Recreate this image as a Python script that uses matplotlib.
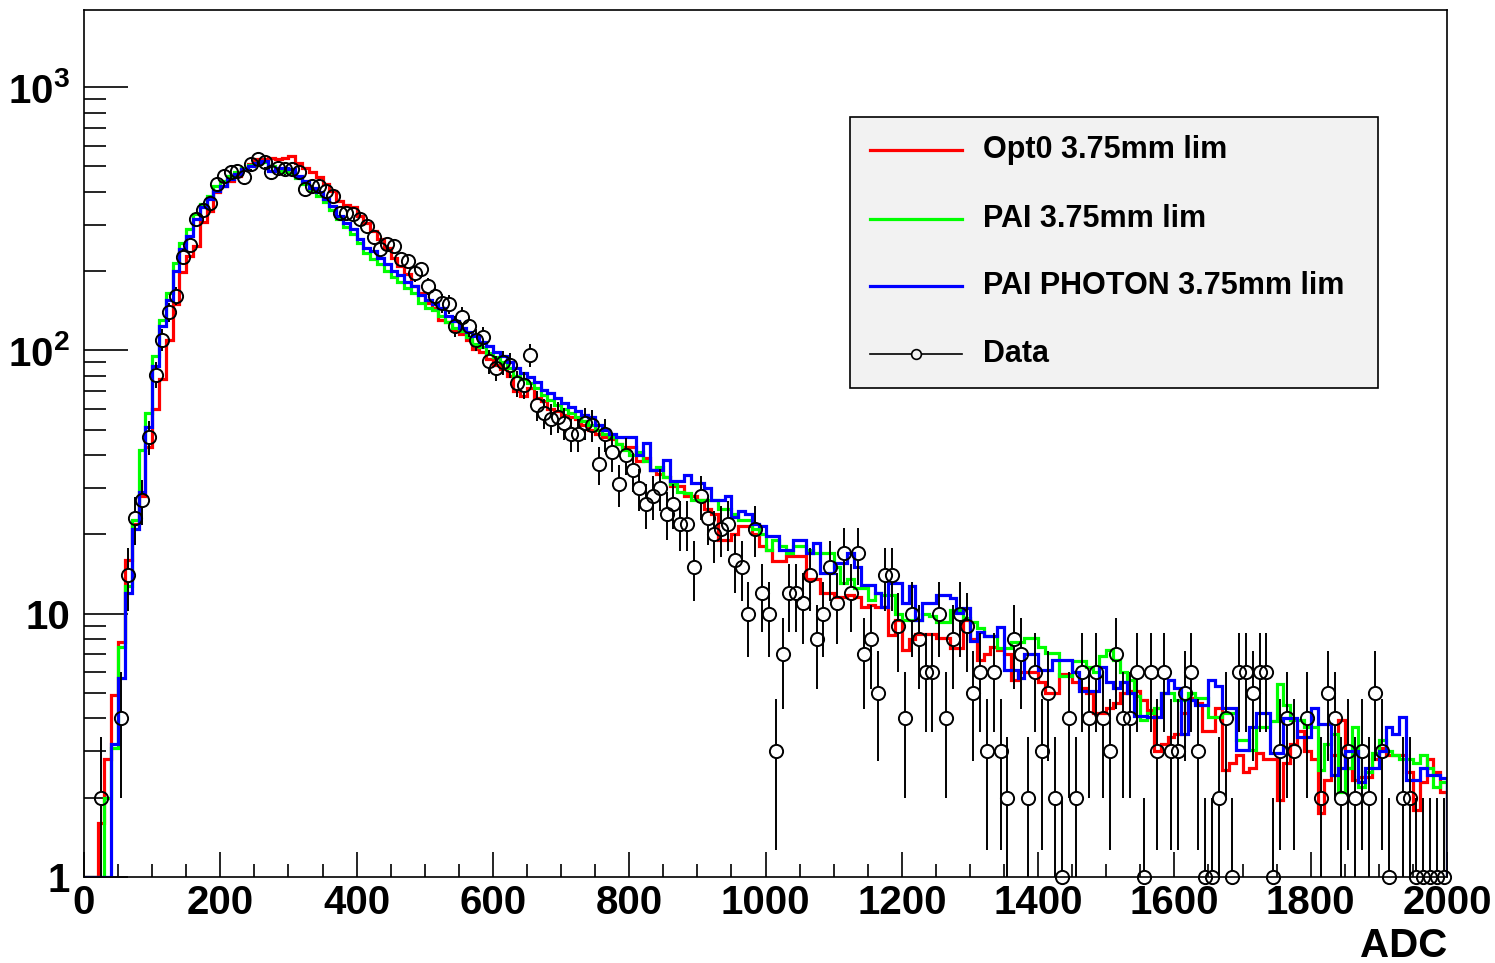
import numpy as np
import matplotlib.pyplot as plt
from matplotlib.lines import Line2D
from matplotlib.patches import Rectangle
from matplotlib.ticker import FixedLocator, LogLocator, NullFormatter

plt.rcParams["font.family"] = ["Liberation Sans", "DejaVu Sans"]
plt.rcParams["font.weight"] = "bold"
plt.rcParams["mathtext.fontset"] = "custom"
plt.rcParams["mathtext.rm"] = "Liberation Sans:bold"
plt.rcParams["mathtext.bf"] = "Liberation Sans:bold"

# ============================================================
# DATA (200 bins of 10 ADC, 0..2000)
# ============================================================
BIN_WIDTH = 10
N_BINS = 200

# data: raw counts per bin
data_counts = [
    0, 0, 2, 0, 0, 4, 14, 23, 27, 47,
    81, 110, 140, 161, 227, 252, 315, 341, 364, 428,
    460, 476, 480, 454, 510, 532, 520, 474, 495, 490,
    487, 474, 410, 421, 421, 403, 387, 334, 334, 330,
    315, 297, 270, 242, 253, 249, 222, 218, 196, 203,
    175, 161, 151, 150, 124, 134, 124, 110, 112, 91,
    86, 90, 88, 75, 74, 96, 62, 58, 55, 56,
    53, 48, 48, 53, 52, 37, 48, 41, 31, 40,
    35, 30, 26, 28, 30, 24, 26, 22, 22, 15,
    28, 23, 20, 21, 22, 16, 15, 10, 21, 12,
    10, 3, 7, 12, 12, 11, 14, 8, 10, 15,
    11, 17, 12, 17, 7, 8, 5, 14, 14, 9,
    4, 10, 8, 6, 6, 10, 4, 8, 10, 9,
    5, 6, 3, 6, 3, 2, 8, 7, 2, 6,
    3, 5, 2, 1, 4, 2, 6, 4, 6, 4,
    3, 7, 4, 4, 6, 1, 6, 3, 6, 3,
    3, 5, 6, 3, 1, 1, 2, 4, 1, 6,
    6, 5, 6, 6, 1, 3, 4, 3, 0, 4,
    0, 2, 5, 4, 2, 3, 2, 3, 2, 5,
    3, 1, 0, 2, 2, 1, 1, 1, 1, 1,
]

# Opt0 3.75mm lim (red)
opt0_vals = [
    0, 0, 1.6, 2.8, 4.9, 7.8, 16, 22, 28, 43,
    60, 78, 110, 150, 198, 228, 249, 307, 339, 398,
    421, 440, 460, 487, 510, 532, 532, 540, 532, 540,
    548, 517, 495, 474, 454, 428, 403, 368, 357, 349,
    324, 306, 284, 264, 245, 225, 210, 195, 175, 165,
    152, 145, 130, 128, 120, 115, 110, 101, 99, 93,
    88, 85, 80, 70, 67, 72, 66, 64, 60, 59,
    57, 56, 55, 52, 50, 48, 47, 46, 44, 43,
    43, 38, 39, 35, 34, 33, 30.5, 30.5, 28, 28,
    27, 25, 24, 19.1, 19.1, 20, 21.5, 21.5, 20, 18,
    17.5, 15.8, 15.8, 16.5, 16.5, 16.5, 13.5, 13.5, 12, 12,
    11.6, 11.6, 11.8, 11.6, 10.6, 10.8, 10.6, 10.6, 8.3, 9.5,
    7.3, 8, 8.4, 8.4, 8.4, 8.1, 8.1, 7.4, 7.4, 9.5,
    8, 6.7, 7.0, 7.5, 7.3, 7.0, 5.6, 6, 6, 6,
    5.5, 5.0, 5.0, 5.9, 5.9, 5.5, 5.2, 5, 4.2, 4.2,
    4.4, 4.6, 5.0, 5.1, 5.1, 4.7, 4.3, 3.0, 3.2, 3.4,
    3.5, 4.2, 4.8, 4.6, 3.6, 3.6, 4.4, 2.55, 2.7, 2.9,
    2.5, 2.6, 2.95, 2.8, 2.8, 1.96, 2.7, 3.2, 3.6, 3.0,
    2.8, 1.75, 2.34, 2.9, 3.95, 2.6, 2.34, 2.4, 2.4, 2.8,
    3.1, 2.9, 2.9, 2.9, 2.5, 1.8, 2.3, 2.8, 2.5, 2.1,
]

# PAI 3.75mm lim (green)
pai_vals = [
    0, 0, 0, 2.0, 3.1, 7.5, 12.7, 22.7, 42, 58,
    95, 130, 165, 215, 255, 290, 330, 360, 385, 420,
    440, 460, 478, 495, 505, 515, 518, 500, 485, 478,
    470, 450, 430, 405, 385, 365, 340, 315, 295, 278,
    255, 235, 222, 212, 200, 190, 182, 172, 165, 152,
    145, 142, 135, 128, 122, 118, 112, 106, 103, 98,
    94, 90, 86, 80, 78, 75, 72, 68, 65, 62,
    60, 58, 56, 54, 52, 50, 48, 47, 44, 42,
    40, 41, 38, 35, 36, 33, 31, 29, 28.8, 27,
    27, 27, 27, 25, 25, 24, 22.7, 22.7, 21, 20,
    17.5, 19, 18, 17, 18, 18, 17.5, 17, 17, 17,
    15, 13.1, 13.5, 12.5, 12.5, 11.3, 12, 11.8, 11.8, 10,
    9.5, 9.5, 9.5, 10, 9.8, 9.3, 9.3, 10.3, 10.3, 9.6,
    9.3, 8.8, 8.2, 8.2, 7.4, 7.4, 7.8, 7.8, 8.1, 8.1,
    7.5, 7.1, 7.1, 5.8, 5.8, 6.6, 6.6, 6.3, 6.0, 6.9,
    7.3, 6.7, 6.0, 5.6, 4.85, 3.95, 4.2, 4.4, 5.0, 5.0,
    4.7, 4.7, 5.0, 4.8, 4.8, 4.06, 4.06, 4.2, 4.2, 3.3,
    3.3, 3.04, 3.7, 3.7, 3.9, 5.4, 4.5, 3.95, 3.95, 3.7,
    3.7, 2.55, 3.2, 3.5, 2.1, 2.6, 3.7, 2.2, 2.5, 2.95,
    3.3, 3.0, 2.9, 2.8, 2.8, 2.7, 2.9, 2.6, 2.2, 2.3,
]

# PAI PHOTON 3.75mm lim (blue)
pai_photon_vals = [
    0, 0, 0, 0, 3.2, 5.7, 12, 21, 29, 51,
    87, 124, 156, 200, 242, 272, 315, 349, 375, 403,
    421, 447, 467, 487, 502, 517, 525, 481, 495, 495,
    487, 460, 440, 415, 398, 375, 354, 324, 306, 288,
    264, 245, 238, 225, 212, 200, 194, 182, 176, 162,
    156, 150, 145, 135, 129, 122, 117, 113, 108, 104,
    99, 95, 90, 86, 82, 79, 76, 71, 69, 66,
    63, 61, 59, 57, 56, 52, 50, 48, 47, 47,
    47, 40, 44.6, 35, 35, 38.5, 32, 32, 33.6, 31.5,
    31.5, 30, 27, 27, 28, 23.2, 24.5, 24, 22, 21.5,
    19.7, 19.7, 17.5, 17.5, 19.1, 19.1, 17, 18.6, 14.3, 14.3,
    15.6, 15.6, 17, 15, 12.9, 12.9, 12, 10.6, 13.1, 13.1,
    11, 12.7, 9.5, 11, 11, 11.8, 11.8, 11.5, 10.1, 10.5,
    7.9, 8.5, 8.2, 8.2, 8.9, 6.1, 6.1, 5.7, 7, 7,
    6.1, 6.1, 6.7, 6.7, 6.7, 6.0, 5.1, 5.1, 5.1, 6.3,
    5.5, 5.2, 5.5, 5.0, 4.1, 4.1, 4.06, 4.06, 5.0, 5.6,
    5.2, 3.5, 4.7, 4.5, 4.5, 5.6, 5.3, 4.4, 4.4, 3.04,
    3.04, 3.7, 4.2, 4.2, 2.95, 2.95, 4.0, 4.0, 3.4, 3.4,
    4.4, 3.8, 3.8, 2.44, 2.6, 3.0, 3.0, 2.3, 2.6, 2.6,
    3.0, 3.7, 3.5, 4.06, 2.34, 2.34, 2.6, 2.44, 2.44, 2.37,
]

series_labels = ["Opt0 3.75mm lim", "PAI 3.75mm lim", "PAI PHOTON 3.75mm lim"]
series_colors = ["#ff0000", "#00ff00", "#0000ff"]

x_ticks = [0, 200, 400, 600, 800, 1000, 1200, 1400, 1600, 1800, 2000]
y_ticks = [1, 10, 100, 1000]
y_tick_labels = ["1", "10", r"$10^{2}$", r"$10^{3}$"]

# ============================================================
# FIGURE
# ============================================================
W, H = 1495, 963
fig = plt.figure(figsize=(W / 100, H / 100), dpi=100)
ax_left, ax_right, ax_top, ax_bottom = 84, 1447, 10, 877
ax = fig.add_axes([ax_left / W, 1 - ax_bottom / H,
                   (ax_right - ax_left) / W, (ax_bottom - ax_top) / H])

YMIN, YMAX = 1, 1963
ax.set_yscale("log")
ax.set_xlim(0, N_BINS * BIN_WIDTH)
ax.set_ylim(YMIN, YMAX)

edges = np.arange(N_BINS + 1) * BIN_WIDTH
centers = edges[:-1] + BIN_WIDTH / 2

for vals, col in zip([opt0_vals, pai_vals, pai_photon_vals], series_colors):
    v = np.clip(np.asarray(vals, dtype=float), YMIN, None)
    ax.stairs(v, edges, color=col, lw=2.3, zorder=2)

# data points with sqrt(N) errors, bars stop at the marker edge (ROOT style)
counts = np.asarray(data_counts, dtype=float)
mask = counts > 0
xc, yc = centers[mask], counts[mask]
err = np.sqrt(yc)
lo = np.clip(yc - err, 0.3, None)
hi = yc + err

ms = 9.5
r_px = ms / 2 * 100 / 72
px_per_decade = (ax_bottom - ax_top) / np.log10(YMAX / YMIN)
gap = 10 ** (r_px / px_per_decade)
ax.vlines(xc, lo, yc / gap, color="black", lw=1.4, zorder=3)
ax.vlines(xc, yc * gap, hi, color="black", lw=1.4, zorder=3)
ax.plot(xc, yc, "o", ms=ms, mfc="none", mec="black", mew=1.4,
        zorder=4, clip_on=False)

# ============================================================
# AXES STYLE
# ============================================================
for s in ax.spines.values():
    s.set_linewidth(1.2)

ax.xaxis.set_major_locator(FixedLocator(x_ticks))
ax.xaxis.set_minor_locator(FixedLocator(np.arange(0, 2001, 50)))
ax.set_xticklabels([str(t) for t in x_ticks])
ax.yaxis.set_major_locator(FixedLocator(y_ticks))
ax.yaxis.set_minor_locator(LogLocator(base=10, subs=range(2, 10)))
ax.yaxis.set_minor_formatter(NullFormatter())
ax.set_yticklabels(y_tick_labels)

ax.tick_params(axis="x", which="major", direction="in", length=18, width=1.2,
               labelsize=29, pad=5)
ax.tick_params(axis="x", which="minor", direction="in", length=9.5, width=1.2)
ax.tick_params(axis="y", which="major", direction="in", length=32, width=1.2,
               labelsize=29, pad=10)
ax.tick_params(axis="y", which="minor", direction="in", length=16, width=1.2)
ax.tick_params(top=False, right=False, which="both")

fig.text(ax_right / W, 1 - 946 / H, "ADC", ha="right", va="center",
         fontsize=29, fontweight="bold")

# ============================================================
# LEGEND (drawn by hand to match the ROOT TLegend box)
# ============================================================
def px_to_ax(x, y):
    return ((x - ax_left) / (ax_right - ax_left),
            (ax_bottom - y) / (ax_bottom - ax_top))

bx0, by0 = px_to_ax(850, 388)
bx1, by1 = px_to_ax(1378, 117)
ax.add_patch(Rectangle((bx0, by0), bx1 - bx0, by1 - by0, transform=ax.transAxes,
                       facecolor="#f2f2f2", edgecolor="black", lw=1.2, zorder=5))

entry_y = [150, 219, 286, 354]
lx0, _ = px_to_ax(870, 0)
lx1, _ = px_to_ax(962, 0)
tx, _ = px_to_ax(983, 0)
mx, _ = px_to_ax(916, 0)
for i, (lab, col) in enumerate(zip(series_labels, series_colors)):
    _, ey = px_to_ax(0, entry_y[i])
    ax.add_line(Line2D([lx0, lx1], [ey, ey], transform=ax.transAxes,
                       color=col, lw=2.3, zorder=6))
    ax.text(tx, ey, lab, transform=ax.transAxes, ha="left", va="center",
            fontsize=22, fontweight="bold", zorder=6)

_, ey = px_to_ax(0, entry_y[3])
ax.add_line(Line2D([lx0, lx1], [ey, ey], transform=ax.transAxes,
                   color="black", lw=1.2, zorder=6))
ax.plot([mx], [ey], "o", transform=ax.transAxes, ms=7, mfc="#f2f2f2",
        mec="black", mew=1.2, zorder=7)
ax.text(tx, ey, "Data", transform=ax.transAxes, ha="left", va="center",
        fontsize=22, fontweight="bold", zorder=6)

fig.savefig("out.png", dpi=100)
